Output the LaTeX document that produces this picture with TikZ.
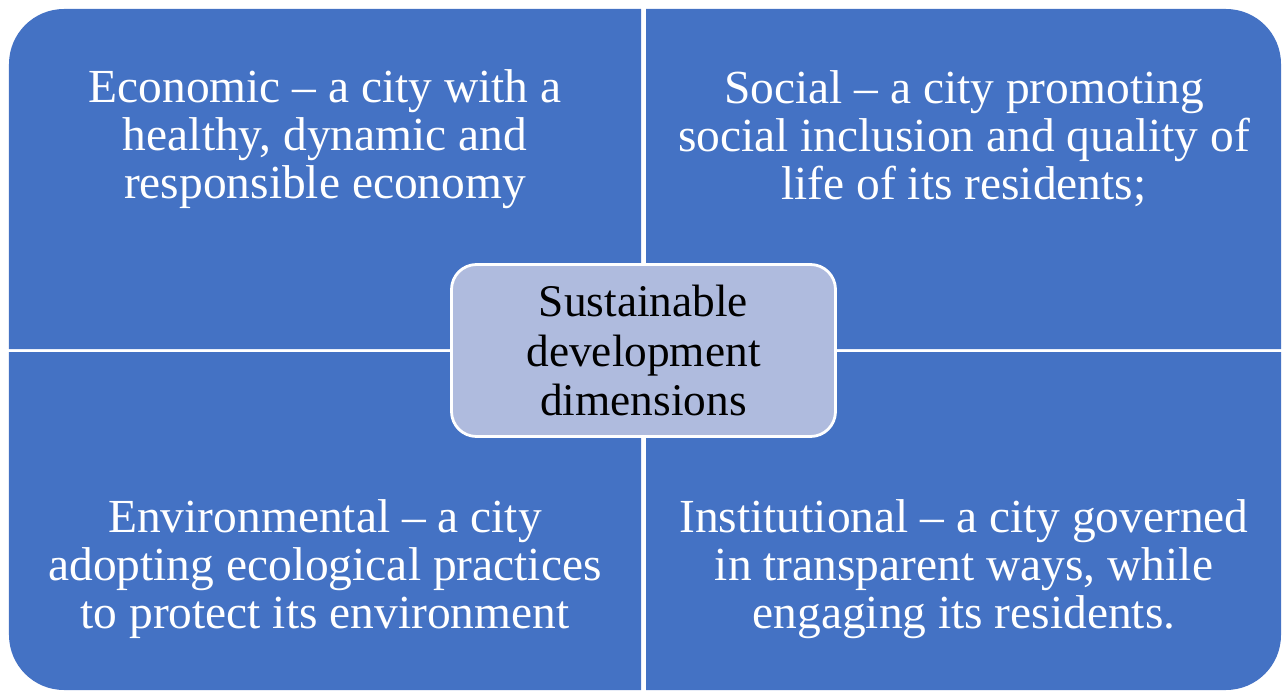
\documentclass[tikz,border=0pt]{standalone}
\usepackage{fontspec}
\setmainfont{Liberation Serif}
\usetikzlibrary{positioning}
\definecolor{dimblue}{RGB}{68,114,196}
\definecolor{hublight}{RGB}{175,187,222}

\begin{document}
\begin{tikzpicture}[quad/.style={fill=dimblue}, dimtext/.style={text=white,align=center,font=\fontsize{27}{27.4}\selectfont}, hub/.style={draw=white,line width=1.6pt,fill=hublight,rounded corners=0.5cm,minimum width=7.68cm,minimum height=3.44cm,align=center,font=\fontsize{25.8}{28.4}\selectfont}]
\useasboundingbox (0,0) rectangle (25.64,13.82);
\fill[quad] (12.82,13.64) -- (1.28,13.64) arc[start angle=90,end angle=180,radius=1.1cm] -- (0.18,6.84) -- (12.82,6.84) -- cycle;
\fill[quad] (12.92,13.64) -- (24.52,13.64) arc[start angle=90,end angle=0,radius=1.1cm] -- (25.62,6.84) -- (12.92,6.84) -- cycle;
\fill[quad] (12.82,6.78) -- (0.18,6.78) -- (0.18,1.12) arc[start angle=180,end angle=270,radius=1.1cm] -- (12.82,0.02) -- cycle;
\fill[quad] (12.92,6.78) -- (25.62,6.78) -- (25.62,1.12) arc[start angle=0,end angle=-90,radius=1.1cm] -- (12.92,0.02) -- cycle;
\node[dimtext] (eco) at (6.5,11.04) {Economic – a city with a\\healthy, dynamic and\\responsible economy};
\node[dimtext] (soc) at (19.28,11.04) {Social – a city promoting\\social inclusion and quality of\\life of its residents;};
\node[dimtext] (env) at (6.5,2.44) {Environmental – a city\\adopting ecological practices\\to protect its environment};
\node[dimtext] (ins) at (19.28,2.44) {Institutional – a city governed\\in transparent ways, while\\engaging its residents.};
\node[hub] (hub) at (12.87,6.81) {Sustainable\\development\\dimensions};
\end{tikzpicture}
\end{document}
